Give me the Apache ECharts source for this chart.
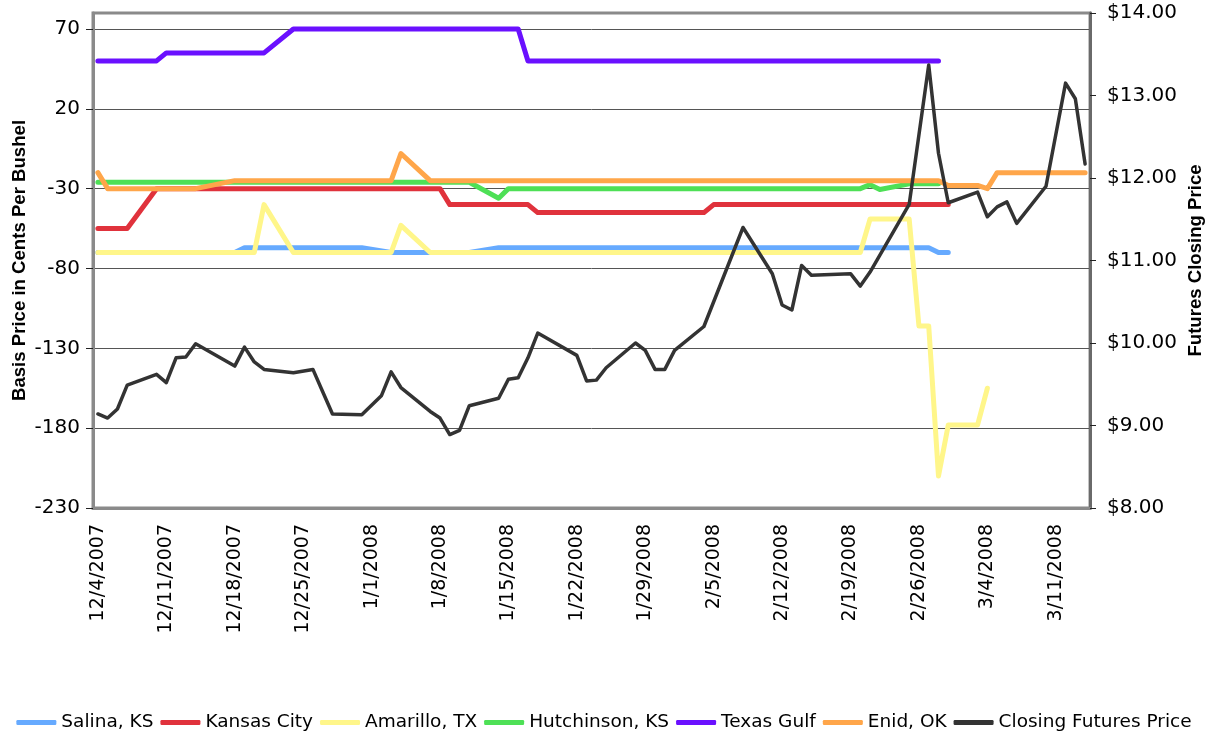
<!DOCTYPE html>
<html><head><meta charset="utf-8">
<script src="https://cdn.jsdelivr.net/npm/echarts@6/dist/echarts.min.js"></script>
<style>html,body{margin:0;padding:0;background:#fff}#c{width:1208px;height:734px}</style>
</head><body><div id="c"></div>
<script>
// Trading dates (M/D/YYYY)
const tradeDates = [
 '12/4/2007','12/5/2007','12/6/2007','12/7/2007','12/10/2007','12/11/2007','12/12/2007','12/13/2007','12/14/2007','12/17/2007',
 '12/18/2007','12/19/2007','12/20/2007','12/21/2007','12/24/2007','12/26/2007','12/27/2007','12/28/2007','12/31/2007',
 '1/2/2008','1/3/2008','1/4/2008','1/7/2008','1/8/2008','1/9/2008','1/10/2008','1/11/2008','1/14/2008','1/15/2008',
 '1/16/2008','1/17/2008','1/18/2008','1/22/2008','1/23/2008','1/24/2008','1/25/2008','1/28/2008','1/29/2008','1/30/2008','1/31/2008',
 '2/1/2008','2/4/2008','2/5/2008','2/6/2008','2/7/2008','2/8/2008','2/11/2008','2/12/2008','2/13/2008','2/14/2008',
 '2/15/2008','2/19/2008','2/20/2008','2/21/2008','2/22/2008','2/25/2008','2/26/2008','2/27/2008','2/28/2008','2/29/2008',
 '3/3/2008','3/4/2008','3/5/2008','3/6/2008','3/7/2008','3/10/2008','3/11/2008','3/12/2008','3/13/2008','3/14/2008'
];
const axisStart = '12/4/2007';
const axisEnd = '3/14/2008';
const leftTicks = [-230, -180, -130, -80, -30, 20, 70];

const salina = [
 -70,-70,-70,-70,-70,-70,-70,-70,-70,-70, -70,-67,-67,-67,-67,-67,-67,-67,-67,
 null,-70,-70,-70,-70,-70,-70,-70,-67,-67, -67,-67,-67,-67,-67,-67,-67,-67,-67,-67,-67,
 -67,-67,-67,-67,-67,-67,-67,-67,-67,-67, -67,-67,-67,-67,-67,-67,-67,-67,-70,-70,
 null,null,null,null,null,null,null,null,null,null
];
const kansasCity = [
 -55,-55,-55,-55,-30,-30,-30,-30,-30,-30, -30,-30,-30,-30,-30,-30,-30,-30,-30,
 -30,-30,-30,-30,-30,-40,-40,-40,-40,-40, -40,-40,-45,-45,-45,-45,-45,-45,-45,-45,-45,
 -45,-45,-40,-40,-40,-40,-40,-40,-40,-40, -40,-40,-40,-40,-40,-40,-40,-40,-40,-40,
 null,null,null,null,null,null,null,null,null,null
];
const amarillo = [
 -70,-70,-70,-70,-70,-70,-70,-70,-70,-70, -70,-70,-70,-40,-70,-70,-70,-70,-70,
 -70,-70,-53,-70,-70,-70,-70,-70,-70,-70, -70,-70,-70,-70,-70,-70,-70,-70,-70,-70,-70,
 -70,-70,-70,-70,-70,-70,-70,-70,-70,-70, -70,-70,-70,-49,-49,-49,-116,-116,-210,-178,
 -178,-155,null,null,null,null,null,null,null,null
];
const hutchinson = [
 -26,-26,-26,-26,-26,-26,-26,-26,-26,-26, -26,-26,-26,-26,-26,-26,-26,-26,-26,
 -26,-26,-26,-26,-26,-26,-26,-26,-36,-30, -30,-30,-30,-30,-30,-30,-30,-30,-30,-30,-30,
 -30,-30,-30,-30,-30,-30,-30,-30,-30,-30, -30,-30,-30,-27.5,-30.5,-27,-27,-27,-27,null,
 null,null,null,null,null,null,null,null,null,null
];
const texasGulf = [
 50,50,50,50,50,55,55,55,55,55, 55,55,55,55,70,70,70,70,70,
 70,70,70,70,70,70,70,70,70,70, 70,50,50,50,50,50,50,50,50,50,50,
 50,50,50,50,50,50,50,50,50,50, 50,50,50,50,50,50,50,50,50,null,
 null,null,null,null,null,null,null,null,null,null
];
const enid = [
 -20,-30,-30,-30,-30,-30,-30,-30,-30,null, -25,-25,-25,-25,-25,-25,-25,-25,-25,
 -25,-25,-8,-25,-25,-25,-25,-25,-25,-25, -25,-25,-25,-25,-25,-25,-25,-25,-25,-25,-25,
 -25,-25,-25,-25,-25,-25,-25,-25,-25,-25, -25,-25,-25,-25,-25,-25,-25,-25,-25,-28,
 -28,-30,-20,-20,-20,-20,-20,-20,-20,-20
];
const closingPrice = [
 9.14,9.09,9.20,9.49,9.62,9.52,9.82,9.83,9.99,null, 9.72,9.95,9.77,9.68,9.64,9.68,9.41,9.14,9.13,
 9.36,9.65,9.46,9.17,9.09,8.89,8.94,9.24,9.33,9.56, 9.58,9.82,10.12,9.85,9.54,9.55,9.70,10.00,9.91,9.68,9.68,
 9.91,10.20,null,null,null,11.40,10.84,10.46,10.40,10.94, 10.82,10.84,10.69,10.86,null,11.68,null,13.37,12.30,11.70,
 11.83,11.53,11.65,11.71,11.45,11.90,null,13.15,12.96,12.17
];

function parseD(s){const p=s.split('/');return new Date(+p[2],+p[0]-1,+p[1]);}
function fmtD(d){return (d.getMonth()+1)+'/'+d.getDate()+'/'+d.getFullYear();}
const categories = [];
for (let d=parseD(axisStart); d<=parseD(axisEnd); d.setDate(d.getDate()+1)) categories.push(fmtD(d));
const idx = {}; categories.forEach((c,i)=>idx[c]=i);
function align(vals){const a=categories.map(()=>null);tradeDates.forEach((t,i)=>{a[idx[t]]=vals[i];});return a;}

const FONT = "'DejaVu Sans', Verdana, sans-serif";
const TFONT = "'Liberation Sans', Arial, sans-serif";
function ser(name, vals, color, width, yIdx){
  return {name, type:'line', yAxisIndex:yIdx, data:align(vals), connectNulls:true,
    showSymbol:false, symbol:'none', animation:false, itemStyle:{color},
    lineStyle:{color, width, cap:'round', join:'round'}};
}
const chart = echarts.init(document.getElementById('c'), null, {renderer:'canvas'});
chart.setOption({
  backgroundColor:'#fff',
  animation:false,
  grid:{left:93, right:118, top:13, bottom:226, outerBoundsMode:'none', containLabel:false,
    show:true, borderColor:'#8a8a8a', borderWidth:3},
  legend:{top:708, left:'center', icon:'roundRect', itemWidth:40, itemHeight:5, itemGap:7,
    textStyle:{fontFamily:FONT, fontSize:18.5, color:'#000'},
    data:['Salina, KS','Kansas City','Amarillo, TX','Hutchinson, KS','Texas Gulf','Enid, OK','Closing Futures Price']},
  xAxis:{type:'category', data:categories, boundaryGap:true,
    axisLine:{onZero:false, lineStyle:{color:'#8a8a8a', width:3}},
    axisTick:{interval:6, length:7, lineStyle:{color:'#222'}},
    axisLabel:{interval:6, rotate:90, margin:16, fontFamily:FONT, fontSize:19, color:'#000'},
    splitLine:{show:false}},
  yAxis:[{type:'value', min:-230, max:80, position:'left',
    axisLine:{show:true, lineStyle:{color:'#8a8a8a', width:3}},
    axisTick:{show:true, length:7, customValues:leftTicks, lineStyle:{color:'#222'}},
    axisLabel:{customValues:leftTicks, margin:13, fontFamily:FONT, fontSize:20, color:'#000'},
    splitLine:{show:true, lineStyle:{color:'#555', width:1}},
    name:'Basis Price in Cents Per Bushel', nameLocation:'middle', nameGap:64, nameMoveOverlap:false,
    nameTextStyle:{fontFamily:TFONT, fontWeight:'bold', fontSize:18.6, color:'#000'}},
   {type:'value', min:8, max:14, interval:1, position:'right',
    axisLine:{show:true, lineStyle:{color:'#6a6a6a', width:3}},
    axisTick:{show:true, length:6, lineStyle:{color:'#222'}},
    axisLabel:{margin:17, fontFamily:FONT, fontSize:20, color:'#000', formatter:v=>'$'+v.toFixed(2)},
    splitLine:{show:false},
    name:'Futures Closing Price', nameLocation:'middle', nameGap:96, nameMoveOverlap:false,
    nameTextStyle:{fontFamily:TFONT, fontWeight:'bold', fontSize:18.6, color:'#000'}}],
  series:[
    ser('Salina, KS', salina, '#66aaff', 5, 0),
    ser('Kansas City', kansasCity, '#e0323c', 5, 0),
    ser('Amarillo, TX', amarillo, '#fff68a', 5, 0),
    ser('Hutchinson, KS', hutchinson, '#4ee056', 5, 0),
    ser('Texas Gulf', texasGulf, '#6a10ff', 5, 0),
    ser('Enid, OK', enid, '#ffa64a', 5, 0),
    ser('Closing Futures Price', closingPrice, '#333333', 3.5, 1)
  ]
});
</script></body></html>
